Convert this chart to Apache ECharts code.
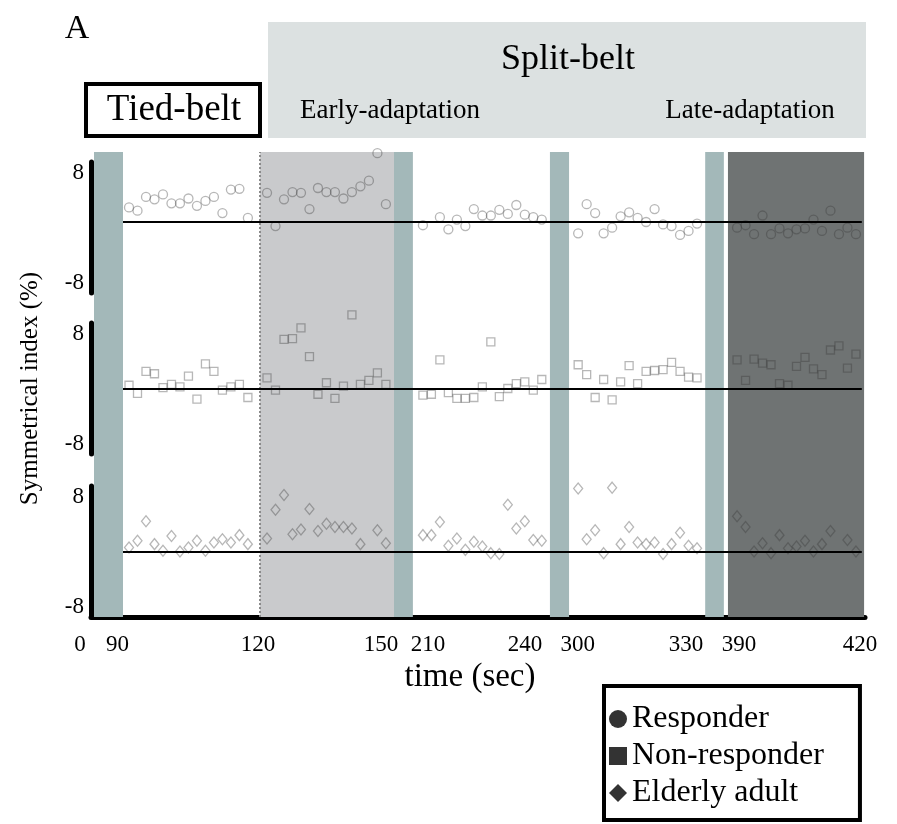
<!DOCTYPE html>
<html>
<head>
<meta charset="utf-8">
<title>Symmetrical index</title>
<script src="https://cdn.jsdelivr.net/npm/echarts@6/dist/echarts.min.js"></script>
<style>
  html, body { margin: 0; padding: 0; background: #fff; }
  #chart { width: 897px; height: 824px; }
</style>
</head>
<body>
<div id="chart"></div>
<script>
// symmetrical index (%), 15 samples per phase
// phases: tied-belt, early-adaptation, 210-240 s, 300-330 s, late-adaptation
const responder = [
  [1.8, 1.4, 3.1, 2.8, 3.4, 2.3, 2.3, 2.9, 2.0, 2.6, 3.1, 1.1, 4.0, 4.1, 0.5],
  [3.6, -0.5, 2.8, 3.7, 3.6, 1.6, 4.2, 3.7, 3.7, 2.9, 3.7, 4.4, 5.1, 8.5, 2.2],
  [-0.4, null, 0.6, -0.9, 0.3, -0.5, 1.6, 0.8, 0.8, 1.5, 1.0, 2.1, 0.9, 0.6, 0.3],
  [-1.4, 2.2, 1.1, -1.4, -0.7, 0.7, 1.2, 0.5, 0.0, 1.6, -0.3, -0.5, -1.6, -1.1, -0.2],
  [-0.7, -0.4, -1.5, 0.8, -1.5, -0.8, -1.4, -0.9, -0.8, 0.3, -1.1, 1.4, -1.5, -0.7, -1.5]
]
const nonResponder = [
  [0.4, -0.6, 2.1, 1.8, 0.1, 0.5, 0.2, 1.5, -1.3, 3.0, 2.1, -0.2, 0.2, 0.5, -1.1],
  [1.3, -0.2, 6.0, 6.1, 7.4, 3.9, -0.7, 0.7, -1.2, 0.3, 9.0, 0.5, 1.0, 1.9, 0.5],
  [-0.8, -0.7, 3.5, -0.5, -1.2, -1.2, -1.1, 0.2, 5.7, -1.0, 0.0, 0.6, 0.8, -0.2, 1.1],
  [2.9, 1.7, -1.1, 1.1, -1.4, 0.8, 2.8, 0.6, 2.1, 2.2, 2.3, 3.2, 2.1, 1.4, 1.3],
  [3.5, 1.0, 3.6, 3.1, 2.9, 0.6, 0.4, 2.7, 3.8, 2.4, 1.7, 4.7, 5.2, 2.5, 4.2]
]
const elderly = [
  [0.5, 1.3, 3.7, 0.9, 0.1, 1.9, 0.0, 0.5, 1.3, 0.1, 1.1, 1.5, 1.1, 2.0, 0.9],
  [1.6, 5.1, 6.9, 2.1, 2.7, 5.2, 2.5, 3.4, 3.0, 3.0, 2.8, 0.9, null, 2.6, 1.0],
  [2.0, 2.0, 3.6, 0.7, 1.6, 0.2, 1.2, 0.6, -0.2, -0.3, 5.7, 2.8, 3.7, 1.4, 1.3],
  [7.7, 1.5, 2.6, -0.2, 7.8, 0.9, 3.0, 1.1, 0.9, 1.1, -0.3, 0.9, 2.3, 0.7, 0.4],
  [4.3, 3.0, 0.0, 1.0, -0.2, 2.0, 0.4, 0.6, 1.3, 0.0, 0.9, 2.5, null, 1.4, 0.0]
]
const groupNames = ['Responder', 'Non-responder', 'Elderly adult']

// time axis is broken; ticks are placed on the plotted (display) scale
const tickLabels = ['0', '90', '120', '150', '210', '240', '300', '330', '390', '420']
const tickPos = [0, 5.8, 36.7, 63.7, 74.0, 95.3, 106.9, 130.7, 142.3, 168.9]

// display-scale positions of the phases and bars
const phaseFirst = [8.35, 38.66, 72.9, 107.0, 141.9]
const sampleStep = 1.865
const restBars = [[0.66, 7.03], [66.55, 70.7], [100.8, 105.0], [134.9, 139.0]]
const earlyBand = [37.1, 66.55]
const lateBand = [139.9, 169.8]
const dividerAt = 37.1
const zeroSpan = [7.03, 169.3]

const FONT = 'Liberation Serif'
const X_MAX = 170
const GRID_LEFT = 91
const GRID_RIGHT = 32

const rows = [
  { data: responder, symbol: 'circle', size: 9, top: 162, min: -8.77, max: 7.41 },
  { data: nonResponder, symbol: 'rect', size: 8, top: 323, min: -8, max: 8 },
  { data: elderly, symbol: 'diamond', size: [9, 11], top: 486, min: -8, max: 8 }
]

function toPoints (phases) {
  const pts = []
  phases.forEach((vals, p) => {
    vals.forEach((v, i) => {
      if (v !== null) pts.push([phaseFirst[p] + i * sampleStep, v])
    })
  })
  return pts
}

const chart = echarts.init(document.getElementById('chart'))

const grid = [{ left: GRID_LEFT, right: GRID_RIGHT, top: 152, height: 465 }]
const xAxis = [{
  gridIndex: 0,
  type: 'value',
  min: 0,
  max: X_MAX,
  offset: 7,
  splitLine: { show: false },
  axisTick: { show: false },
  axisLine: { show: true, lineStyle: { color: '#000', width: 5 } },
  axisLabel: {
    customValues: tickPos,
    margin: 9,
    fontFamily: FONT,
    fontSize: 23,
    color: '#000',
    formatter: function (v) {
      const i = tickPos.indexOf(v)
      const t = i >= 0 ? tickLabels[i] : ''
      return i === 0 ? '{l|' + t + '}' : t
    },
    rich: { l: { fontFamily: FONT, fontSize: 23, color: '#000', padding: [0, 22, 0, 0] } }
  },
  name: 'time (sec)',
  nameLocation: 'middle',
  nameGap: 25,
  nameTextStyle: { fontFamily: FONT, fontSize: 33, color: '#000', padding: [0, 16, 0, 0] }
}]
const yAxis = [{ gridIndex: 0, type: 'value', min: 0, max: 1, show: false }]

const series = [{
  type: 'scatter',
  xAxisIndex: 0,
  yAxisIndex: 0,
  z: 1,
  silent: true,
  symbolSize: 0,
  data: [],
  markArea: {
    silent: true,
    data: restBars.map(b => [{ xAxis: b[0], itemStyle: { color: '#a3b8b9' } }, { xAxis: b[1] }])
      .concat([
        [{ xAxis: earlyBand[0], itemStyle: { color: '#c9cacc' } }, { xAxis: earlyBand[1] }],
        [{ xAxis: lateBand[0], itemStyle: { color: '#6f7373' } }, { xAxis: lateBand[1] }]
      ])
  },
  markLine: {
    silent: true,
    symbol: 'none',
    label: { show: false },
    lineStyle: { color: '#8a8a8a', type: [2, 2], width: 2 },
    data: [{ xAxis: dividerAt }]
  }
}]

rows.forEach((r, k) => {
  const g = k + 1
  grid.push({ left: GRID_LEFT, right: GRID_RIGHT, top: r.top, height: 131 })
  xAxis.push({ gridIndex: g, type: 'value', min: 0, max: X_MAX, show: false })
  const yA = {
    gridIndex: g,
    type: 'value',
    min: r.min,
    max: r.max,
    splitLine: { show: false },
    axisTick: { show: false },
    axisLine: { show: true, lineStyle: { color: '#000', width: 5 } },
    axisLabel: {
      customValues: [r.min, r.max],
      margin: 7,
      formatter: v => (v > 0 ? '{t|8}' : '{b|-8}'),
      rich: {
        t: { fontFamily: FONT, fontSize: 23, color: '#000', padding: [22, 0, 0, 0] },
        b: { fontFamily: FONT, fontSize: 23, color: '#000', padding: [0, 0, 20, 0] }
      }
    }
  }
  if (k === 1) {
    yA.name = 'Symmetrical index (%)'
    yA.nameLocation = 'middle'
    yA.nameRotate = 90
    yA.nameGap = 48
    yA.nameTextStyle = { fontFamily: FONT, fontSize: 25, color: '#000' }
  }
  yAxis.push(yA)
  series.push({
    name: groupNames[k],
    type: 'scatter',
    xAxisIndex: g,
    yAxisIndex: g,
    z: 3,
    clip: false,
    symbol: r.symbol,
    symbolSize: r.size,
    itemStyle: { color: 'rgba(0,0,0,0)', borderColor: 'rgba(55,55,55,0.45)', borderWidth: 1.3 },
    emphasis: { disabled: true },
    data: toPoints(r.data),
    markLine: {
      silent: true,
      symbol: 'none',
      label: { show: false },
      lineStyle: { color: '#000', type: 'solid', width: 2 },
      data: [[{ coord: [zeroSpan[0], 0] }, { coord: [zeroSpan[1], 0] }]]
    }
  })
})

const option = {
  animation: false,
  backgroundColor: '#fff',
  grid: grid,
  xAxis: xAxis,
  yAxis: yAxis,
  series: series,
  legend: {
    orient: 'vertical',
    left: 604,
    top: 686,
    padding: [17, 36, 11, 5],
    itemGap: 5,
    itemWidth: 18,
    itemHeight: 18,
    borderColor: '#000',
    borderWidth: 4,
    backgroundColor: '#fff',
    selectedMode: false,
    textStyle: { fontFamily: FONT, fontSize: 32, color: '#000' },
    data: [
      { name: 'Responder', icon: 'circle', itemStyle: { color: '#000', borderWidth: 0 } },
      { name: 'Non-responder', icon: 'rect', itemStyle: { color: '#000', borderWidth: 0 } },
      { name: 'Elderly adult', icon: 'diamond', itemStyle: { color: '#000', borderWidth: 0 } }
    ]
  },
  graphic: [
    { type: 'rect', shape: { x: 268, y: 22, width: 598, height: 116 }, style: { fill: '#dce1e1' } },
    { type: 'text', x: 568, y: 60, style: { text: 'Split-belt', font: '36px "Liberation Serif"', fill: '#000', textAlign: 'center', textVerticalAlign: 'middle' } },
    { type: 'text', x: 390, y: 111, style: { text: 'Early-adaptation', font: '27px "Liberation Serif"', fill: '#000', textAlign: 'center', textVerticalAlign: 'middle' } },
    { type: 'text', x: 750, y: 111, style: { text: 'Late-adaptation', font: '27px "Liberation Serif"', fill: '#000', textAlign: 'center', textVerticalAlign: 'middle' } },
    { type: 'rect', shape: { x: 86, y: 84, width: 174, height: 52 }, style: { fill: '#fff', stroke: '#000', lineWidth: 4 } },
    { type: 'text', x: 174, y: 110, style: { text: 'Tied-belt', font: '37px "Liberation Serif"', fill: '#000', textAlign: 'center', textVerticalAlign: 'middle' } },
    { type: 'text', x: 77, y: 29, style: { text: 'A', font: '34px "Liberation Serif"', fill: '#000', textAlign: 'center', textVerticalAlign: 'middle' } }
  ]
}

chart.setOption(option)
</script>
</body>
</html>
